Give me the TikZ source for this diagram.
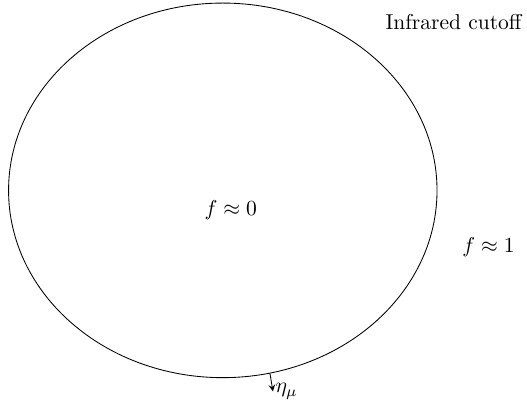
\documentclass[tikz,border=0pt]{standalone}
\begin{document}
\begin{tikzpicture}[>=stealth]
            \useasboundingbox (-3.64,-3.49) rectangle (4.97,3.11);
            \draw (0,0) ellipse (3.5cm and 3.06cm);
            \coordinate (rim) at (-77.3:3.5cm and 3.06cm);
            \coordinate (out) at ([shift={(0.05,-0.3)}]rim);
            \draw[->] (rim) -- (out);
            \node[right,inner sep=1pt] (eta) at (out) {$\eta_\mu$};
            \node (inside) at (0.13,-0.33) {$f\approx 0$};
            \node (outside) at (4.34,-0.92) {$f\approx 1$};
            \node (cutoff) at (3.77,2.75) {Infrared cutoff};
        \end{tikzpicture}
\end{document}
